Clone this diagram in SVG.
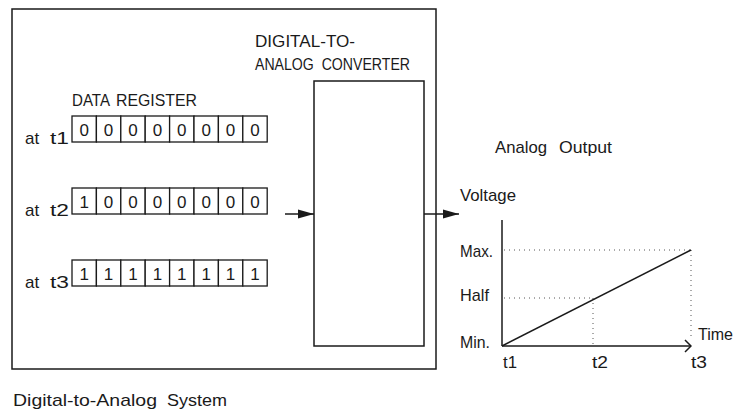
<svg xmlns="http://www.w3.org/2000/svg" width="734" height="412" viewBox="0 0 734 412">
<style>
text{font-family:"Liberation Sans",Arial,sans-serif;font-size:17px;fill:#1a1a1a}
.pre{white-space:pre}
.ln{stroke:#1a1a1a;stroke-width:1.5;fill:none}
.cell{stroke:#1a1a1a;stroke-width:1.3;fill:#fff}
.dig{text-anchor:middle;font-size:17px}
.dot{stroke:#555;stroke-width:1;stroke-dasharray:1 4;fill:none}
</style>
<defs>
<marker id="tri" viewBox="0 0 16 10" refX="16" refY="5" markerWidth="16" markerHeight="10" markerUnits="userSpaceOnUse" orient="auto">
<path d="M0,0.5 L16,5 L0,9.5 Z" fill="#1a1a1a"/>
</marker>
<marker id="chev" viewBox="0 0 8 14" refX="7" refY="7" markerWidth="8" markerHeight="14" markerUnits="userSpaceOnUse" orient="auto">
<path d="M1,1 L7,7 L1,13" fill="none" stroke="#1a1a1a" stroke-width="1.5"/>
</marker>
</defs>
<rect width="734" height="412" fill="#fff"/>
<g id="system">
<rect class="ln" x="12" y="9" width="424" height="360"/>
<text x="13" y="406" textLength="144" lengthAdjust="spacingAndGlyphs">Digital-to-Analog</text>
<text x="167" y="406" textLength="60" lengthAdjust="spacingAndGlyphs">System</text>
</g>
<g id="register">
<text x="72" y="106" textLength="38" lengthAdjust="spacingAndGlyphs">DATA</text>
<text x="116" y="106" textLength="81" lengthAdjust="spacingAndGlyphs">REGISTER</text>
<g id="reg-t1">
<text x="25" y="144">at</text>
<text x="50" y="144" textLength="19" lengthAdjust="spacingAndGlyphs">t1</text>
<g transform="translate(72,116)">
<rect class="cell" x="0" y="0" width="24.4" height="26"/><rect class="cell" x="24.4" y="0" width="24.4" height="26"/><rect class="cell" x="48.8" y="0" width="24.4" height="26"/><rect class="cell" x="73.2" y="0" width="24.4" height="26"/><rect class="cell" x="97.6" y="0" width="24.4" height="26"/><rect class="cell" x="122" y="0" width="24.4" height="26"/><rect class="cell" x="146.4" y="0" width="24.4" height="26"/><rect class="cell" x="170.8" y="0" width="24.4" height="26"/>
<text class="dig" x="12.2" y="20">0</text><text class="dig" x="36.6" y="20">0</text><text class="dig" x="61" y="20">0</text><text class="dig" x="85.4" y="20">0</text><text class="dig" x="109.8" y="20">0</text><text class="dig" x="134.2" y="20">0</text><text class="dig" x="158.6" y="20">0</text><text class="dig" x="183" y="20">0</text>
</g>
</g>
<g id="reg-t2">
<text x="25" y="216">at</text>
<text x="50" y="216" textLength="19" lengthAdjust="spacingAndGlyphs">t2</text>
<g transform="translate(72,188)">
<rect class="cell" x="0" y="0" width="24.4" height="26"/><rect class="cell" x="24.4" y="0" width="24.4" height="26"/><rect class="cell" x="48.8" y="0" width="24.4" height="26"/><rect class="cell" x="73.2" y="0" width="24.4" height="26"/><rect class="cell" x="97.6" y="0" width="24.4" height="26"/><rect class="cell" x="122" y="0" width="24.4" height="26"/><rect class="cell" x="146.4" y="0" width="24.4" height="26"/><rect class="cell" x="170.8" y="0" width="24.4" height="26"/>
<text class="dig" x="12.2" y="20">1</text><text class="dig" x="36.6" y="20">0</text><text class="dig" x="61" y="20">0</text><text class="dig" x="85.4" y="20">0</text><text class="dig" x="109.8" y="20">0</text><text class="dig" x="134.2" y="20">0</text><text class="dig" x="158.6" y="20">0</text><text class="dig" x="183" y="20">0</text>
</g>
</g>
<g id="reg-t3">
<text x="25" y="288">at</text>
<text x="50" y="288" textLength="19" lengthAdjust="spacingAndGlyphs">t3</text>
<g transform="translate(72,260)">
<rect class="cell" x="0" y="0" width="24.4" height="26"/><rect class="cell" x="24.4" y="0" width="24.4" height="26"/><rect class="cell" x="48.8" y="0" width="24.4" height="26"/><rect class="cell" x="73.2" y="0" width="24.4" height="26"/><rect class="cell" x="97.6" y="0" width="24.4" height="26"/><rect class="cell" x="122" y="0" width="24.4" height="26"/><rect class="cell" x="146.4" y="0" width="24.4" height="26"/><rect class="cell" x="170.8" y="0" width="24.4" height="26"/>
<text class="dig" x="12.2" y="20">1</text><text class="dig" x="36.6" y="20">1</text><text class="dig" x="61" y="20">1</text><text class="dig" x="85.4" y="20">1</text><text class="dig" x="109.8" y="20">1</text><text class="dig" x="134.2" y="20">1</text><text class="dig" x="158.6" y="20">1</text><text class="dig" x="183" y="20">1</text>
</g>
</g>
</g>
<g id="dac">
<text x="255" y="47" textLength="100" lengthAdjust="spacingAndGlyphs">DIGITAL-TO-</text>
<text class="pre" x="255" y="70" textLength="155" lengthAdjust="spacingAndGlyphs">ANALOG  CONVERTER</text>
<rect class="ln" x="314" y="81" width="110" height="265"/>
</g>
<g id="connectors">
<line class="ln" x1="285" y1="214" x2="314" y2="214" marker-end="url(#tri)"/>
<line class="ln" x1="424" y1="214" x2="459" y2="214" marker-end="url(#tri)"/>
</g>
<g id="graph">
<text x="495" y="153" textLength="52" lengthAdjust="spacingAndGlyphs">Analog</text>
<text x="559" y="153" textLength="53" lengthAdjust="spacingAndGlyphs">Output</text>
<text x="460" y="201" textLength="56" lengthAdjust="spacingAndGlyphs">Voltage</text>
<text x="460" y="257" textLength="33" lengthAdjust="spacingAndGlyphs">Max.</text>
<text x="460" y="301" textLength="29" lengthAdjust="spacingAndGlyphs">Half</text>
<text x="460" y="348" textLength="30" lengthAdjust="spacingAndGlyphs">Min.</text>
<text x="698" y="340" textLength="35" lengthAdjust="spacingAndGlyphs">Time</text>
<text x="503" y="368" textLength="14" lengthAdjust="spacingAndGlyphs">t1</text>
<text x="592" y="368" textLength="16" lengthAdjust="spacingAndGlyphs">t2</text>
<text x="691" y="368" textLength="16" lengthAdjust="spacingAndGlyphs">t3</text>
<line class="dot" x1="504" y1="250" x2="691" y2="250"/>
<line class="dot" x1="504" y1="298" x2="593" y2="298"/>
<line class="dot" x1="593" y1="298" x2="593" y2="345"/>
<line class="dot" x1="691" y1="250" x2="691" y2="338"/>
<line class="ln" x1="502" y1="220" x2="502" y2="346"/>
<line class="ln" x1="502" y1="346" x2="691" y2="346" marker-end="url(#chev)"/>
<line class="ln" x1="502" y1="346" x2="691" y2="250"/>
</g>
</svg>
